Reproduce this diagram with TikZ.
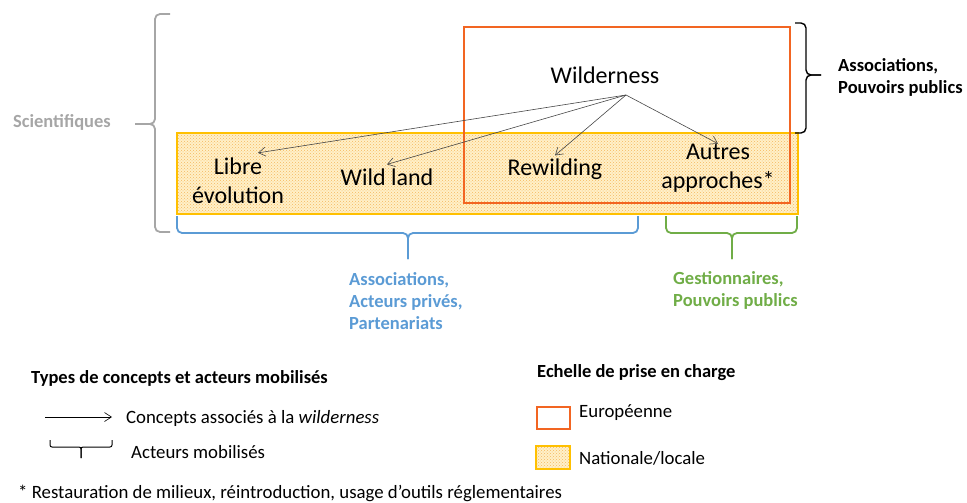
\documentclass[tikz,border=0pt]{standalone}
\usepackage{fontspec}
\setmainfont{Carlito}
\usetikzlibrary{patterns,arrows.meta}
\definecolor{orangeEU}{RGB}{242,101,34}
\definecolor{goldNat}{RGB}{255,192,0}
\definecolor{fillNat}{RGB}{255,240,200}
\definecolor{dotNat}{RGB}{245,185,95}
\definecolor{blueAct}{RGB}{91,155,213}
\definecolor{greenAct}{RGB}{112,173,71}
\definecolor{greySci}{RGB}{166,166,166}
\definecolor{arrowGrey}{RGB}{70,70,70}
\begin{document}
\begin{tikzpicture}[x=1pt,y=-1pt,
	concept/.style={font=\fontsize{24}{29}\selectfont, align=center, inner sep=2pt},
	actor/.style={font=\fontsize{18.5}{22}\selectfont\bfseries, align=left, anchor=west, inner sep=0pt},
	legend/.style={font=\fontsize{18.8}{22}\selectfont, anchor=west, inner sep=0pt},
	assoc/.style={-{Straight Barb[length=7pt,width=9pt]}, arrowGrey, line width=0.6pt},
	acteurs/.style={line width=1.8pt, rounded corners=5pt},
	national/.style={fill=fillNat, postaction={pattern=crosshatch dots, pattern color=dotNat}},
	europe/.style={draw=orangeEU, line width=2.5pt}]
	
	\useasboundingbox (0,0) rectangle (967,503);
	
	% Echelle nationale/locale (fond pointillé)
	\fill[national] (177,133) rectangle (798,214);
	\draw[goldNat, line width=2.5pt] (177,133) rectangle (798,214);
	
	% Echelle européenne
	\draw[europe] (464,27) rectangle (790,203);
	
	% Concepts
	\node[concept] (wild) at (605,75) {Wilderness};
	\coordinate (hub) at (626,95);
	\node[concept] (libre) at (238,181) {Libre\\évolution};
	\node[concept] (land) at (387,177) {Wild land};
	\node[concept] (rewild) at (555,169) {Rewilding};
	\node[concept] (autres) at (718,168) {Autres\\approches*};
	
	% Flèches
	\draw[assoc] (hub) -- ([xshift=20pt,yshift=3pt]libre.north);
	\draw[assoc] (hub) -- ([yshift=2pt]land.north);
	\draw[assoc] (hub) -- ([yshift=1pt]rewild.north);
	\draw[assoc] (hub) -- ([yshift=-2pt]autres.north);
	
	% Accolades des acteurs
	\draw[acteurs, greySci] (170,14) -- (155,14) -- (155,124) -- (135,124);
	\draw[acteurs, greySci] (170,232) -- (155,232) -- (155,124) -- (135,124);
	\draw[acteurs, black, line width=1.4pt] (795,23) -- (806,23) -- (806,75) -- (821,75);
	\draw[acteurs, black, line width=1.4pt] (795,133) -- (806,133) -- (806,75) -- (821,75);
	\draw[acteurs, blueAct] (177,216) -- (177,233) -- (408,233) -- (408,259);
	\draw[acteurs, blueAct] (638,216) -- (638,233) -- (408,233) -- (408,259);
	\draw[acteurs, greenAct] (666,216) -- (666,233) -- (732,233) -- (732,259);
	\draw[acteurs, greenAct] (797,216) -- (797,233) -- (732,233) -- (732,259);
	
	% Acteurs
	\node[actor, greySci, anchor=center] (sci) at (62,122) {Scientifiques};
	\node[actor] (pub) at (838,77) {Associations,\\Pouvoirs publics};
	\node[actor, blueAct] (prive) at (349,301) {Associations,\\Acteurs privés,\\Partenariats};
	\node[actor, greenAct] (gest) at (673,290) {Gestionnaires,\\Pouvoirs publics};
	
	% Légende
	\node[legend, font=\fontsize{18.5}{22}\selectfont\bfseries] (titreA) at (31,378) {Types de concepts et acteurs mobilisés};
	\coordinate (la) at (45,417);
	\coordinate (lb) at (112,417);
	\draw[assoc, black] (la) -- (lb);
	\node[legend] (lconc) at (126,418) {Concepts associés à la \textit{wilderness}};
	\draw[acteurs, black, line width=1pt, rounded corners=2pt] (50,440) -- (50,447) -- (81,447) -- (81,458);
	\draw[acteurs, black, line width=1pt, rounded corners=2pt] (112,440) -- (112,447) -- (81,447) -- (81,458);
	\node[legend] (lact) at (131,452) {Acteurs mobilisés};
	\node[legend] (note) at (18,493) {* Restauration de milieux, réintroduction, usage d’outils réglementaires};
	
	\node[legend, font=\fontsize{18.5}{22}\selectfont\bfseries] (titreB) at (537,373) {Echelle de prise en charge};
	\draw[europe, line width=2pt] (537,407) rectangle (570,429);
	\node[legend] (leur) at (579,413) {Européenne};
	\fill[national] (536,446) rectangle (570,469);
	\draw[goldNat, line width=2.5pt] (536,446) rectangle (570,469);
	\node[legend] (lnat) at (579,458) {Nationale/locale};
	
\end{tikzpicture}
\end{document}
